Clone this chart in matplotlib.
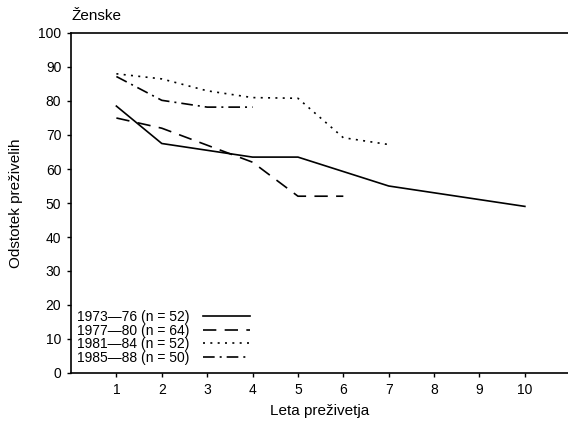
import matplotlib
matplotlib.use("Agg")
import matplotlib.pyplot as plt

plt.rcParams['font.family'] = ['Liberation Sans', 'DejaVu Sans']
plt.rcParams['font.size'] = 10

labels = ["1973—76 (n = 52)", "1977—80 (n = 64)", "1981—84 (n = 52)", "1985—88 (n = 50)"]
x_7376 = [1, 2, 4, 5, 7, 10]
y_7376 = [78.5, 67.5, 63.5, 63.5, 55, 49]
x_7780 = [1, 2, 3, 4, 5, 6]
y_7780 = [75, 72, 67, 62, 52, 52]
x_8184 = [1, 2, 3, 4, 5, 6, 7]
y_8184 = [88, 86.5, 83, 81, 80.8, 69.2, 67.2]
x_8588 = [1, 2, 3, 4]
y_8588 = [87.2, 80.2, 78.2, 78.2]
xticks = list(range(1, 11))
yticks = list(range(0, 101, 10))

fig = plt.figure(figsize=(5.68, 4.24), dpi=100)
ax = fig.add_axes([71/568, 1-373/424, 1-71/568, 340/424])

styles = ['-', (0, (8, 5)), (0, (1.2, 3.2)), (0, (7, 3, 1.2, 3))]
series = [(x_7376, y_7376), (x_7780, y_7780), (x_8184, y_8184), (x_8588, y_8588)]
for (xs, ys), ls, lab in zip(series, styles, labels):
    ax.plot(xs, ys, color='black', lw=1.2, linestyle=ls, label=lab)

ax.set_xlim(0, 10.95)
ax.set_ylim(0, 100)
ax.set_xticks(xticks)
ax.set_yticks(yticks)
ax.spines['right'].set_visible(False)
for s in ['left', 'bottom', 'top']:
    ax.spines[s].set_linewidth(1.2)
ax.tick_params(direction='out', length=3, width=1, labelsize=10, pad=4)
ax.set_xlabel("Leta preživetja", fontsize=11, labelpad=5)
ax.set_ylabel("Odstotek preživelih", fontsize=11, labelpad=11)
ax.text(0.0, 1.03, "Ženske", transform=ax.transAxes, fontsize=11, ha='left', va='bottom')

leg = ax.legend(loc='lower left', bbox_to_anchor=(0.0, 0.007), frameon=False,
                markerfirst=False, handlelength=3.4, handletextpad=1.0,
                labelspacing=-0.02, fontsize=10, borderaxespad=0)

fig.savefig("out.png", dpi=100)
